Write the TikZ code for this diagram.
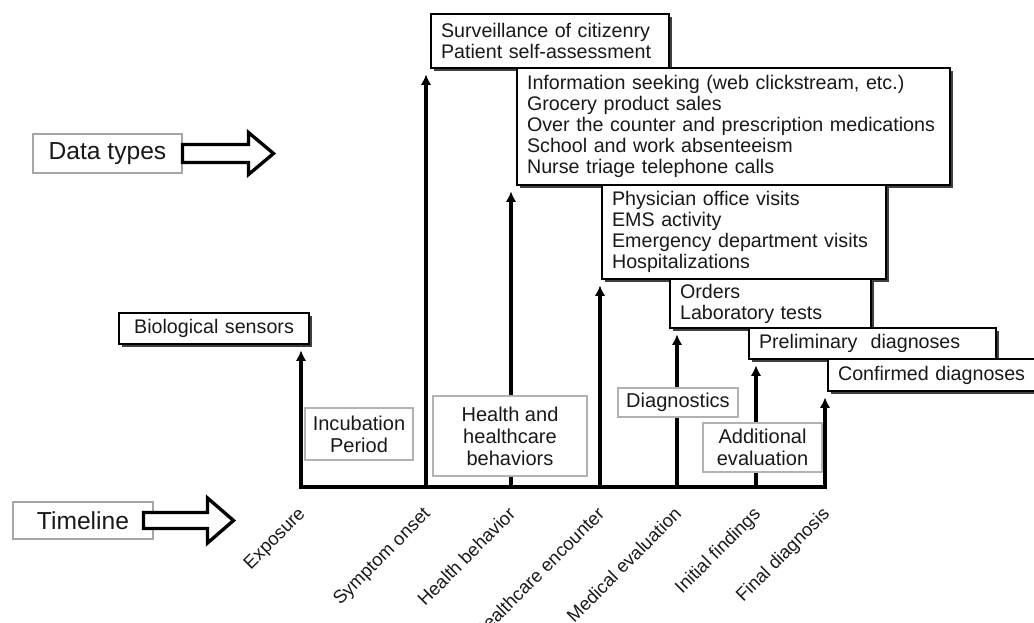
\documentclass[tikz,border=0pt]{standalone}
\usepackage{fontspec}
\setmainfont{Liberation Sans}
\usetikzlibrary{arrows.meta,shadows}

\begin{document}
\begin{tikzpicture}[x=0.02cm, y=-0.02cm,
  every node/.style={text=black!90, font=\fontsize{11.2}{12}\selectfont},
  dbox/.style={draw, line width=1.2pt, fill=white, anchor=north west, align=left, inner xsep=0.2cm, inner ysep=2pt,
    drop shadow={shadow xshift=1.8pt, shadow yshift=-1.8pt, fill=black!75, opacity=1}},
  gbox/.style={draw=gray!60, line width=0.6pt, fill=white, align=center, inner sep=1pt, font=\fontsize{11.4}{12.6}\selectfont},
  lbox/.style={draw=gray!70, line width=0.6pt, fill=white, font=\fontsize{14}{16}\selectfont},
  tline/.style={line width=2pt, line cap=rect},
  varrow/.style={line width=2pt, -{Latex[length=6pt,width=6pt]}, shorten >=3pt},
  stage/.style={rotate=45, anchor=north east, inner sep=1pt, font=\fontsize{10.5}{12}\selectfont},
  bigarrow/.style={line width=1.9pt, fill=white, line join=miter}]

\useasboundingbox (0,0) rectangle (1034,622);

% left labels
\node[lbox, minimum width=2.98cm, minimum height=0.78cm] (dtype) at (107.5,153.5) {Data types};
\node[lbox, minimum width=2.8cm, minimum height=0.74cm] (tbox) at (83,520.5) {Timeline};

\draw[bigarrow] (dtype.east) ++(0,-9) -- ++(66,0) -- ++(0,-12) -- ++(25,21) -- ++(-25,21) -- ++(0,-12) -- ++(-66,0) -- cycle;
\draw[bigarrow] (tbox.east) ++(-10,-8) -- ++(64,0) -- ++(0,-14.5) -- ++(26,22.5) -- ++(-26,22.5) -- ++(0,-14.5) -- ++(-64,0) -- cycle;

% data types
\node[dbox, text width=3.4cm, minimum height=0.62cm, align=center] (sens) at (118,312) {Biological sensors};
\node[dbox, text width=4.36cm, minimum height=1.08cm] (surv) at (430,13) {Surveillance of citizenry\\Patient self-assessment};
\node[dbox, text width=8.26cm, minimum height=2.34cm] (info) at (516,67) {Information seeking (web clickstream, etc.)\\Grocery product sales\\Over the counter and prescription medications\\School and work absenteeism\\Nurse triage telephone calls};
\node[dbox, text width=5.28cm, minimum height=1.88cm] (phys) at (601,184) {Physician office visits\\EMS activity\\Emergency department visits\\Hospitalizations};
\node[dbox, text width=3.62cm, minimum height=0.98cm] (ord) at (669,278) {Orders\\Laboratory tests};
\node[dbox, text width=4.54cm, minimum height=0.62cm] (prel) at (748,327) {Preliminary~ diagnoses};
\node[dbox, text width=4.1cm, minimum height=0.64cm] (conf) at (827,358) {Confirmed diagnoses};

% timeline
\coordinate (exp) at (301,487);
\coordinate (sym) at (426,487);
\coordinate (hb) at (511,487);
\coordinate (he) at (600,487);
\coordinate (me) at (677,487);
\coordinate (inf) at (756,487);
\coordinate (fin) at (825,487);

\draw[tline] (exp) -- (fin);
\draw[varrow] (exp) -- (exp |- sens.south);
\draw[varrow] (sym) -- (sym |- surv.south);
\draw[varrow] (hb) -- (hb |- info.south);
\draw[varrow] (he) -- (he |- phys.south);
\draw[varrow] (me) -- (me |- ord.south);
\draw[varrow] (inf) -- (inf |- prel.south);
\draw[varrow] (fin) -- (fin |- conf.south);

% periods
\node[gbox, minimum width=2.16cm, minimum height=1.04cm] (incub) at (359,434) {Incubation\\Period};
\node[gbox, minimum width=3.08cm, minimum height=1.6cm] (hbeh) at (510,436) {Health and\\healthcare\\behaviors};
\node[gbox, minimum width=2.4cm, minimum height=0.58cm] (diag) at (678,402.5) {Diagnostics};
\node[gbox, minimum width=2.38cm, minimum height=0.98cm] (addl) at (762.5,447.5) {Additional\\evaluation};

% stages
\node[stage] (lexp) at (297,503) {Exposure};
\node[stage] (lsym) at (422,503) {Symptom onset};
\node[stage] (lhb) at (507,503) {Health behavior};
\node[stage] (lhe) at (596,503) {Healthcare encounter};
\node[stage] (lme) at (673,503) {Medical evaluation};
\node[stage] (linf) at (752,503) {Initial findings};
\node[stage] (lfin) at (821,503) {Final diagnosis};

\end{tikzpicture}
\end{document}
